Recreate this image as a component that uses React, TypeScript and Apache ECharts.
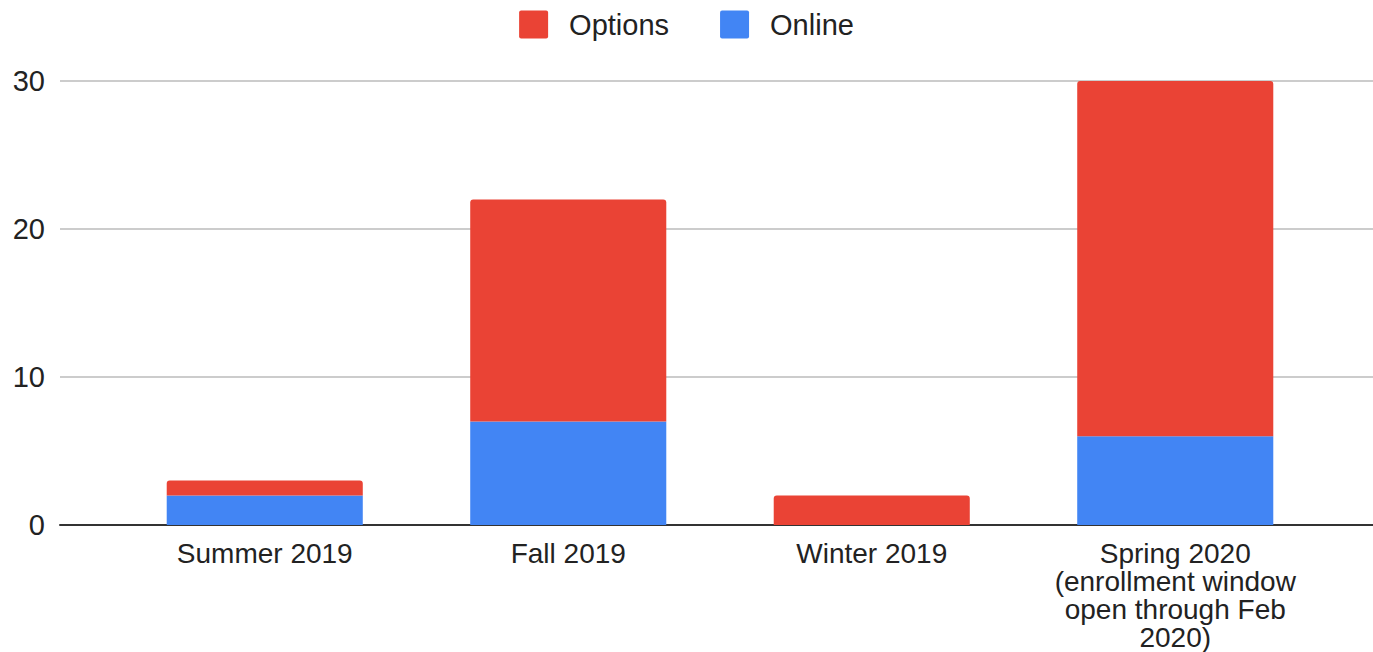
import React, { useEffect, useRef } from "react";
import * as echarts from "echarts";

const categories = [
  "Summer 2019",
  "Fall 2019",
  "Winter 2019",
  "Spring 2020\n(enrollment window\nopen through Feb\n2020)",
];
const onlineValues = [2, 7, 0, 6];
const optionsValues = [1, 15, 2, 24];
const yTicks = { min: 0, max: 30, interval: 10 };

const FONT = "Liberation Sans, Arial, sans-serif";
const FS = 29;

export default function App() {
  const ref = useRef<HTMLDivElement>(null);
  useEffect(() => {
    if (!ref.current) return;
    const chart = echarts.init(ref.current, null, { renderer: "svg" });
    const top = 81;
    const bottom = 127;
    chart.setOption({
      animation: false,
      textStyle: { fontFamily: FONT },
      legend: {
        data: ["Options", "Online"],
        top: 5,
        left: "center",
        icon: "path://M2,0 H27 Q29,0 29,2 V26 Q29,28 27,28 H2 Q0,28 0,26 V2 Q0,0 2,0 Z",
        itemWidth: 29,
        itemHeight: 28,
        itemGap: 51,
        textStyle: { fontSize: FS, color: "#222", fontFamily: FONT, padding: [0, 0, 0, 16] },
      },
      grid: [
        { left: 60, right: 0, top, bottom, containLabel: false },
        { left: 113, right: 46, top, bottom, containLabel: false },
      ],
      xAxis: [
        {
          gridIndex: 0,
          type: "value",
          min: 0,
          max: 1,
          axisLabel: { show: false },
          axisTick: { show: false },
          splitLine: { show: false },
          axisLine: { show: true, onZero: true, lineStyle: { color: "#333", width: 2 } },
        },
        {
          gridIndex: 1,
          type: "category",
          data: categories,
          axisLine: { show: false },
          axisTick: { show: false },
          axisLabel: {
            fontSize: 28,
            color: "#222",
            fontFamily: FONT,
            margin: 14,
            lineHeight: 28,
            interval: 0,
          },
        },
      ],
      yAxis: [
        {
          gridIndex: 0,
          type: "value",
          min: yTicks.min,
          max: yTicks.max,
          interval: yTicks.interval,
          axisLine: { show: false },
          axisTick: { show: false },
          axisLabel: { fontSize: FS, color: "#222", fontFamily: FONT, margin: 15 },
          splitLine: { show: true, lineStyle: { color: "#ccc", width: 2 } },
        },
        {
          gridIndex: 1,
          type: "value",
          min: yTicks.min,
          max: yTicks.max,
          interval: yTicks.interval,
          show: false,
          splitLine: { show: false },
        },
      ],
      series: [
        {
          name: "Online",
          type: "bar",
          stack: "total",
          xAxisIndex: 1,
          yAxisIndex: 1,
          data: onlineValues,
          barWidth: "64.6%",
          itemStyle: { color: "#4285F4" },
        },
        {
          name: "Options",
          type: "bar",
          stack: "total",
          xAxisIndex: 1,
          yAxisIndex: 1,
          data: optionsValues,
          barWidth: "64.6%",
          itemStyle: { color: "#EA4335", borderRadius: [3, 3, 0, 0] },
        },
      ],
    });
    return () => chart.dispose();
  }, []);
  return (
    <div
      ref={ref}
      style={{ position: "fixed", left: 0, top: 0, width: 1373, height: 652, background: "#fff" }}
    />
  );
}
